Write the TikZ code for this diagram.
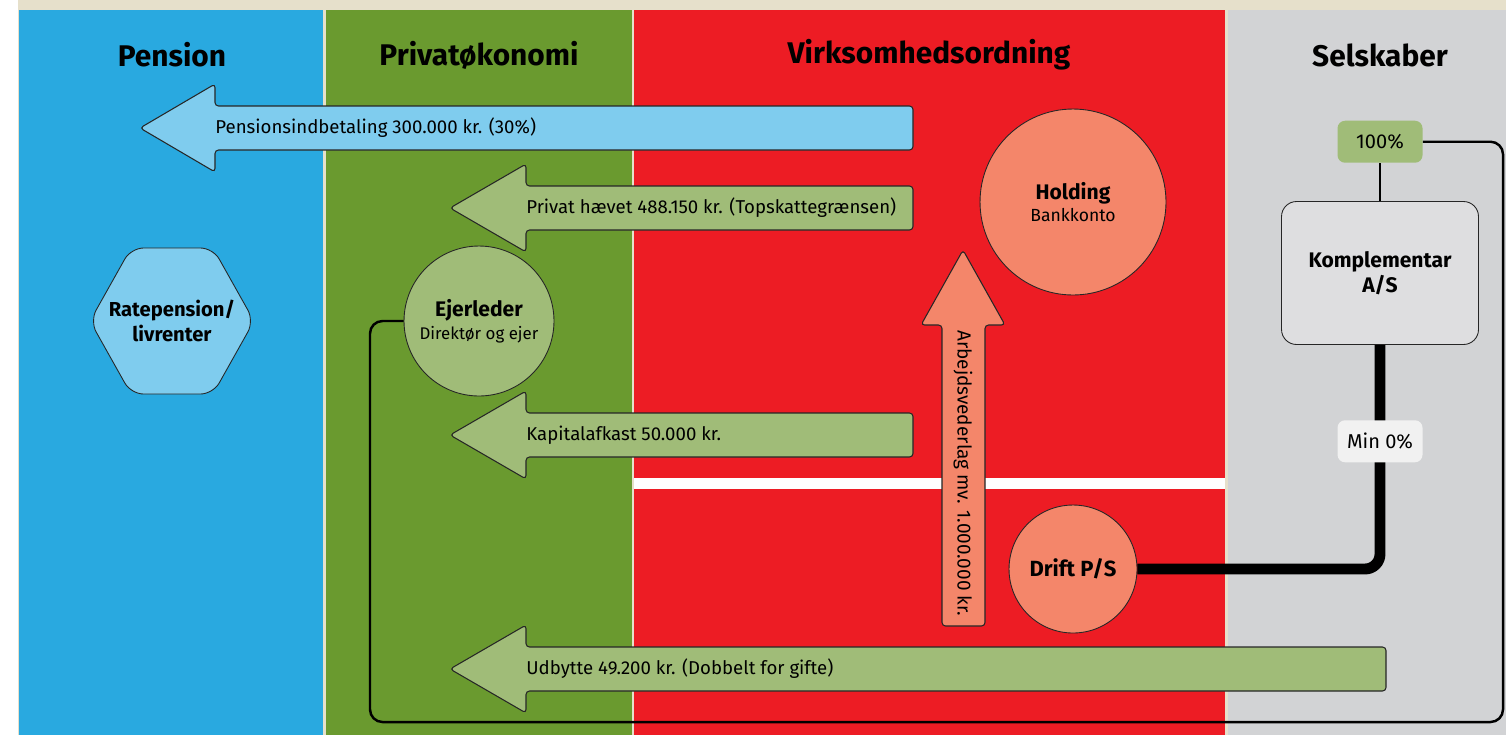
\documentclass[tikz,border=0pt]{standalone}
\usepackage{fontspec}
\setmainfont{Fira Sans}
\usetikzlibrary{positioning, shapes.geometric}

\definecolor{topbeige}{HTML}{E6E0CB}
\definecolor{pensionblue}{HTML}{29A9E0}
\definecolor{privatgreen}{HTML}{6A9A2F}
\definecolor{firmred}{HTML}{ED1C24}
\definecolor{selskabgrey}{HTML}{D2D3D5}
\definecolor{lightblue}{HTML}{7FCCEE}
\definecolor{lightgreen}{HTML}{A0BC78}
\definecolor{salmon}{HTML}{F4866A}
\definecolor{boxgrey}{HTML}{DEDEE0}
\definecolor{tagwhite}{HTML}{F1F1F1}

\begin{document}
\begin{tikzpicture}[x=0.02cm, y=-0.02cm,
        title/.style={font=\fontsize{17}{19}\selectfont\bfseries},
        flowtext/.style={font=\fontsize{10.6}{12}\selectfont, inner sep=0pt, anchor=west},
        flowarrow/.style={draw=black!85, line width=0.6pt, rounded corners=2pt},
        circ/.style={draw=black!85, circle, line width=0.5pt, align=center, inner sep=0pt, font=\fontsize{10}{13}\selectfont},
        tag/.style={rectangle, rounded corners=1.5mm, minimum width=1.7cm, minimum height=0.84cm, font=\fontsize{11.4}{13}\selectfont},
        thinlink/.style={line width=1.4pt, rounded corners=2.5mm},
        thicklink/.style={line width=6.2pt, rounded corners=3mm}
      ]

      \useasboundingbox (0,0) rectangle (1506,735);

      % columns
      \fill[topbeige] (18,0) rectangle (1506,735);
      \fill[pensionblue] (19,10) rectangle (323,735);
      \fill[privatgreen] (326,10) rectangle (632,735);
      \fill[firmred] (634,10) rectangle (1225,735);
      \fill[selskabgrey] (1228,10) rectangle (1506,735);
      \fill[white] (634,478) rectangle (1225,489);

      \node[title] (pension) at (172,55) {Pension};
      \node[title] (privat) at (479,55) {Privatøkonomi};
      \node[title] (virksomhed) at (929,55) {Virksomhedsordning};
      \node[title] (selskaber) at (1380,55) {Selskaber};

      % flow arrows
      \draw[flowarrow, fill=lightblue] (140,128) -- (215,84) -- (215,106) -- (913,106) -- (913,150) -- (215,150) -- (215,172) -- cycle;
      \node[flowtext] (pensionflow) at (215,128) {Pensionsindbetaling 300.000 kr. (30\%)};

      \draw[flowarrow, fill=lightgreen] (450,208) -- (526,164) -- (526,186) -- (913,186) -- (913,230) -- (526,230) -- (526,252) -- cycle;
      \node[flowtext] (privatflow) at (526,208) {Privat hævet 488.150 kr. (Topskattegrænsen)};

      \draw[flowarrow, fill=lightgreen] (450,435) -- (526,391) -- (526,413) -- (913,413) -- (913,457) -- (526,457) -- (526,479) -- cycle;
      \node[flowtext] (kapitalflow) at (526,435) {Kapitalafkast 50.000 kr.};

      \draw[flowarrow, fill=lightgreen] (450,669) -- (526,625) -- (526,647) -- (1386,647) -- (1386,691) -- (526,691) -- (526,713) -- cycle;
      \node[flowtext] (udbytteflow) at (526,669) {Udbytte 49.200 kr. (Dobbelt for gifte)};

      \draw[flowarrow, fill=salmon] (963,250) -- (1005,325) -- (985,325) -- (985,626) -- (942,626) -- (942,325) -- (921,325) -- cycle;
      \node[flowtext, rotate=-90, font=\fontsize{10.8}{12}\selectfont] (arbejdflow) at (963,330) {Arbejdsvederlag mv. 1.000.000 kr.};

      % Pension node
      \draw[draw=black!85, fill=lightblue, line width=0.5pt, rounded corners=2.5mm] (90,321) -- (131,248) -- (213,248) -- (254,321) -- (213,394) -- (131,394) -- cycle;
      \node[align=center, font=\fontsize{11.5}{14}\selectfont\bfseries] (rate) at (172,321) {Ratepension/\\livrenter};

      % circles
      \node[circ, fill=lightgreen, minimum size=3cm] (ejer) at (479,321) {\textbf{\fontsize{12}{14}\selectfont Ejerleder}\\\fontsize{9.6}{12}\selectfont Direktør og ejer};
      \node[circ, fill=salmon, minimum size=3.72cm] (holding) at (1073,202) {\textbf{\fontsize{12}{14}\selectfont Holding}\\Bankkonto};
      \node[circ, fill=salmon, minimum size=2.56cm, font=\fontsize{12.5}{14}\selectfont\bfseries] (drift) at (1073,569) {Drift P/S};

      % Selskaber
      \node[draw=black!85, fill=boxgrey, rectangle, rounded corners=3mm, minimum width=3.94cm, minimum height=2.86cm, align=center, line width=0.5pt, font=\fontsize{12}{14}\selectfont\bfseries] (komp) at (1380,273) {Komplementar\\A/S};
      \node[tag, fill=lightgreen, above=0.76cm of komp] (pct) {100\%};

      % edges
      \coordinate (frameSE) at (1503,722);
      \coordinate (frameSW) at (370,722);
      \draw[thinlink] (pct.south) -- (komp.north);
      \draw[thinlink] (pct.east) -| (frameSE) -- (frameSW) |- (ejer.west);
      \draw[thicklink] (komp.south) |- (drift.east);
      \node[tag, fill=tagwhite, below=1.5cm of komp] (minpct) {Min 0\%};

      \end{tikzpicture}
\end{document}
